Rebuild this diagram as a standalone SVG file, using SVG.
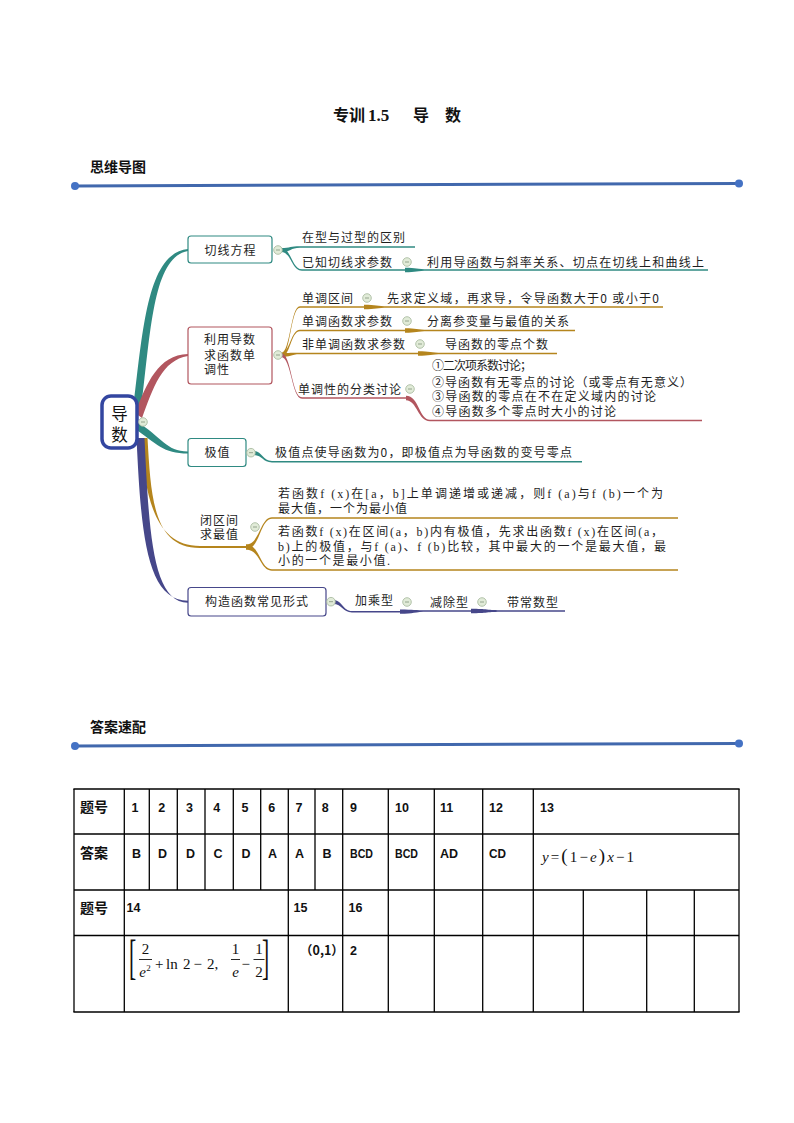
<svg xmlns="http://www.w3.org/2000/svg" width="794" height="1123" viewBox="0 0 794 1123">
<style>
.mm{font-family:"Noto Sans CJK SC",sans-serif;font-size:12px;letter-spacing:1px;fill:#1e1e1e}
.mx{font-family:"Liberation Serif","Noto Sans CJK SC",serif;font-size:12px;fill:#1e1e1e}
.hd{font-family:"Noto Sans CJK SC",sans-serif;font-size:14px;font-weight:bold;fill:#111}
.tb{font-family:"Liberation Sans",Arial,sans-serif;font-size:12.5px;font-weight:bold;fill:#111}
.tc{font-family:"Noto Sans CJK SC",sans-serif;font-size:14px;font-weight:bold;fill:#111}
.m{font-family:"Liberation Serif","Times New Roman",serif;font-size:15px;fill:#111}
.i{font-style:italic}
.br{font-family:"Liberation Serif","Times New Roman",serif;font-size:48px;fill:#111}
.sup{font-family:"Liberation Serif","Times New Roman",serif;font-size:9px;fill:#111}
.grid line{stroke:#000;stroke-width:1.3}
.t{fill:#2f8a82}.ts{stroke:#2f8a82}
.r{fill:#b2565f}.rs{stroke:#b2565f}
.g{fill:#b5851d}.gs{stroke:#b5851d}
.n{fill:#46478a}.ns{stroke:#46478a}
.ul{fill:none;stroke-width:1.4}
.box{fill:#fff;stroke-width:1.2}
</style>
<defs>
<g id="knob"><circle r="4.3" fill="#e1ebd8" stroke="#a3b69a" stroke-width="0.8"/><line x1="-2" y1="0" x2="2" y2="0" stroke="#8c9c86" stroke-width="0.9"/></g>
</defs>
<rect width="794" height="1123" fill="#fff"/>

<g id="title">
<text x="333" y="121" font-family="Noto Sans CJK SC,sans-serif" font-size="16" font-weight="bold" fill="#111">专训</text>
<text x="368" y="121" font-family="Liberation Serif,serif" font-size="17" font-weight="bold" fill="#111">1.5</text>
<text x="413" y="121" font-family="Noto Sans CJK SC,sans-serif" font-size="16" font-weight="bold" fill="#111">导</text>
<text x="445" y="121" font-family="Noto Sans CJK SC,sans-serif" font-size="16" font-weight="bold" fill="#111">数</text>
</g>

<g id="header1">
<text class="hd" x="90" y="172">思维导图</text>
<line x1="75" y1="186" x2="739" y2="183.5" stroke="#4168ad" stroke-width="3"/>
<circle cx="75" cy="186" r="4" fill="#4472c4"/>
<circle cx="739" cy="183.5" r="4" fill="#4472c4"/>
</g>

<g id="header2">
<text class="hd" x="90" y="732">答案速配</text>
<line x1="75" y1="746" x2="739" y2="743.5" stroke="#4168ad" stroke-width="3"/>
<circle cx="75" cy="746" r="4" fill="#4472c4"/>
<circle cx="739" cy="743.5" r="4" fill="#4472c4"/>
</g>

<g id="connectors">
<path class="t" d="M133 410 C143 330 147 253 188 249 L188 251 C153 257 151 330 141 410 Z"/>
<path class="r" d="M135 413 C147 383 158 355 188 354 L188 356 C162 360 153 388 142 418 Z"/>
<path class="t" d="M136 421 C162 437 166 451.5 188 451.5 L188 453.5 C163 453.5 157 444 134 428 Z"/>
<path class="g" d="M141 438 C145 502 157 546 200 546 L250 546 L250 548 L200 548 C154 548 151 500 147.5 438 Z"/>
<path class="n" d="M136.5 438 C141 532 146 600.7 188 600.7 L188 602.7 C152 602.7 149 530 144.5 438 Z"/>

<path class="t" d="M281 248 C290.5 248 290.5 246.3 300 246.3 L300 247.7 C290.5 247.7 290.5 252 281 252Z"/>
<path class="ul ts" d="M300 247 H415"/>
<path class="t" d="M281 248 C291.5 248 291.5 269.3 302 269.3 L302 270.7 C291.5 270.7 291.5 252 281 252Z"/>
<path class="ul ts" d="M302 270 H407"/>
<path class="t" d="M405 267.8 C416 267.8 417 269.3 428 269.3 L428 270.7 C417 270.7 416 272.2 405 272.2Z"/>
<path class="ul ts" d="M428 270 H708"/>

<path class="g" d="M281 353 C290.5 353 290.5 306.3 300 306.3 L300 307.7 C290.5 307.7 290.5 357 281 357Z"/>
<path class="ul gs" d="M300 307 H366"/>
<path class="g" d="M364 304.8 C376 304.8 377 306.3 388 306.3 L388 307.7 C377 307.7 376 309.2 364 309.2Z"/>
<path class="ul gs" d="M388 307 H663"/>
<path class="g" d="M281 353 C290.5 353 290.5 329.8 300 329.8 L300 331.2 C290.5 331.2 290.5 357 281 357Z"/>
<path class="ul gs" d="M300 330.5 H407"/>
<path class="g" d="M405 328.3 C416 328.3 417 329.8 428 329.8 L428 331.2 C417 331.2 416 332.7 405 332.7Z"/>
<path class="ul gs" d="M428 330.5 H575"/>
<path class="g" d="M281 353 C290.5 353 290.5 352.8 300 352.8 L300 354.2 C290.5 354.2 290.5 357 281 357Z"/>
<path class="ul gs" d="M300 353.5 H420"/>
<path class="g" d="M418 351.3 C430 351.3 431 352.8 442 352.8 L442 354.2 C431 354.2 430 355.7 418 355.7Z"/>
<path class="ul gs" d="M442 353.5 H557"/>
<path class="r" d="M281 353 C291.5 353 291.5 397.3 302 397.3 L302 398.7 C291.5 398.7 291.5 357 281 357Z"/>
<path class="ul rs" d="M302 398 H410"/>
<path class="r" d="M406 395.8 C419 395.8 419 419.8 430 419.8 L430 421.2 C418 421.2 417 400.2 406 400.2Z"/>
<path class="ul rs" d="M430 420.5 H702"/>

<path class="t" d="M253 451 C262.5 451 262.5 461 272 461 L272 462.4 C262.5 462.4 262.5 455 253 455Z"/>
<path class="ul ts" d="M272 461.7 H582"/>

<path class="g" d="M246 544.5 C260 544.5 260 517.3 272 517.3 L272 518.7 C260 518.7 260 549.5 246 549.5Z"/>
<path class="ul gs" d="M272 518 H678"/>
<path class="g" d="M246 544.5 C260 544.5 260 569.3 272 569.3 L272 570.7 C260 570.7 260 549.5 246 549.5Z"/>
<path class="ul gs" d="M272 570 H678"/>

<path class="n" d="M333 600 C342.5 600 342.5 611 352 611 L352 612.4 C342.5 612.4 342.5 604 333 604Z"/>
<path class="ul ns" d="M352 611.7 H402"/>
<path class="n" d="M400 609.4 C414 609.4 414 610.3 428 610.3 L428 611.7 C414 611.7 414 613.8 400 613.8Z"/>
<path class="ul ns" d="M428 611 H473"/>
<path class="n" d="M471 608.8 C487 608.8 487 610.3 503 610.3 L503 611.7 C487 611.7 487 613.2 471 613.2Z"/>
<path class="ul ns" d="M503 611 H565"/>
</g>

<g id="node-root">
<rect x="102" y="396" width="35" height="52" rx="9" fill="#fff" stroke="#3346a0" stroke-width="3.5"/>
<text x="119.5" y="420" text-anchor="middle" font-family="Noto Sans CJK SC,sans-serif" font-size="16.5" fill="#111">导</text>
<text x="119.5" y="440.5" text-anchor="middle" font-family="Noto Sans CJK SC,sans-serif" font-size="16.5" fill="#111">数</text>
<use href="#knob" x="143" y="422"/>
</g>

<g id="node-tangent">
<rect class="box ts" x="188" y="236" width="84" height="27" rx="3"/>
<text class="mm" x="230.5" y="254.5" text-anchor="middle">切线方程</text>
<use href="#knob" x="278" y="250"/>
</g>
<g id="node-tangent-1"><text class="mm" x="302" y="241.5">在型与过型的区别</text></g>
<g id="node-tangent-2"><text class="mm" x="302" y="266.5">已知切线求参数</text><use href="#knob" x="407" y="262"/></g>
<g id="node-tangent-2a"><text class="mm" x="427" y="266.5" textLength="278" lengthAdjust="spacing">利用导函数与斜率关系、切点在切线上和曲线上</text></g>

<g id="node-mono">
<rect class="box rs" x="188" y="327" width="84" height="57" rx="3"/>
<text class="mm" x="204" y="343.8">利用导数</text>
<text class="mm" x="204" y="359.5">求函数单</text>
<text class="mm" x="204" y="373.8">调性</text>
<use href="#knob" x="278" y="355"/>
</g>
<g id="node-mono-1"><text class="mm" x="302" y="302.5">单调区间</text><use href="#knob" x="367" y="298"/></g>
<g id="node-mono-1a"><text class="mm" x="387" y="303" textLength="273" lengthAdjust="spacing">先求定义域，再求导，令导函数大于0 或小于0</text></g>
<g id="node-mono-2"><text class="mm" x="302" y="325.5">单调函数求参数</text><use href="#knob" x="407" y="321"/></g>
<g id="node-mono-2a"><text class="mm" x="427" y="325.5">分离参变量与最值的关系</text></g>
<g id="node-mono-3"><text class="mm" x="302" y="348.5">非单调函数求参数</text><use href="#knob" x="420" y="344"/></g>
<g id="node-mono-3a"><text class="mm" x="445" y="348.5">导函数的零点个数</text></g>
<g id="node-mono-4"><text class="mm" x="298" y="393.5">单调性的分类讨论</text><use href="#knob" x="410" y="389"/></g>
<g id="node-mono-4a">
<text class="mm" x="432" y="370" textLength="101" lengthAdjust="spacing">①二次项系数讨论；</text>
<text class="mm" x="432" y="386.5" textLength="261" lengthAdjust="spacing">②导函数有无零点的讨论（或零点有无意义）</text>
<text class="mm" x="432" y="401" textLength="225" lengthAdjust="spacing">③导函数的零点在不在定义域内的讨论</text>
<text class="mm" x="432" y="416" textLength="185" lengthAdjust="spacing">④导函数多个零点时大小的讨论</text>
</g>

<g id="node-extremum">
<rect class="box ts" x="188" y="438.5" width="58" height="28" rx="3"/>
<text class="mm" x="217.5" y="457" text-anchor="middle">极值</text>
<use href="#knob" x="251" y="452.7"/>
</g>
<g id="node-extremum-1"><text class="mm" x="275" y="457" textLength="298" lengthAdjust="spacing">极值点使导函数为0，即极值点为导函数的变号零点</text></g>

<g id="node-closed">
<text class="mm" x="200" y="524.5">闭区间</text>
<text class="mm" x="200" y="538.5">求最值</text>
<use href="#knob" x="255" y="527"/>
</g>
<g id="node-closed-1">
<text class="mx" x="278" y="497.8" textLength="385" lengthAdjust="spacing">若函数f (x)在[a，b]上单调递增或递减，则f (a)与f (b)一个为</text>
<text class="mm" x="278" y="512.8">最大值，一个为最小值</text>
</g>
<g id="node-closed-2">
<text class="mx" x="278" y="536" textLength="385" lengthAdjust="spacing">若函数f (x)在区间(a，b)内有极值，先求出函数f (x)在区间(a，</text>
<text class="mx" x="278" y="550.5" textLength="388" lengthAdjust="spacing">b)上的极值，与f (a)、f (b)比较，其中最大的一个是最大值，最</text>
<text class="mx" x="278" y="564.5" textLength="112" lengthAdjust="spacing">小的一个是最小值.</text>
</g>

<g id="node-construct">
<rect class="box ns" x="188" y="587.5" width="138" height="28.5" rx="3"/>
<text class="mm" x="257" y="606" text-anchor="middle">构造函数常见形式</text>
<use href="#knob" x="331" y="601.7"/>
</g>
<g id="node-construct-1"><text class="mm" x="355" y="605">加乘型</text><use href="#knob" x="407" y="602"/></g>
<g id="node-construct-2"><text class="mm" x="430" y="607">减除型</text><use href="#knob" x="482" y="602"/></g>
<g id="node-construct-3"><text class="mm" x="507" y="607">带常数型</text></g>

<g id="table">
<g class="grid">
<line x1="73.4" y1="789" x2="739.6" y2="789"/>
<line x1="74" y1="834" x2="739" y2="834"/>
<line x1="74" y1="890" x2="739" y2="890"/>
<line x1="74" y1="935.5" x2="739" y2="935.5"/>
<line x1="73.4" y1="1012" x2="739.6" y2="1012"/>
<line x1="74" y1="789" x2="74" y2="1012"/>
<line x1="739" y1="789" x2="739" y2="1012"/>
<line x1="124.3" y1="789" x2="124.3" y2="1012"/>
<line x1="288.3" y1="789" x2="288.3" y2="1012"/>
<line x1="342.7" y1="789" x2="342.7" y2="1012"/>
<line x1="388.3" y1="789" x2="388.3" y2="1012"/>
<line x1="434.3" y1="789" x2="434.3" y2="1012"/>
<line x1="482.7" y1="789" x2="482.7" y2="1012"/>
<line x1="533.3" y1="789" x2="533.3" y2="1012"/>
<line x1="149.3" y1="789" x2="149.3" y2="890"/>
<line x1="177.3" y1="789" x2="177.3" y2="890"/>
<line x1="205" y1="789" x2="205" y2="890"/>
<line x1="233.3" y1="789" x2="233.3" y2="890"/>
<line x1="260.7" y1="789" x2="260.7" y2="890"/>
<line x1="315" y1="789" x2="315" y2="890"/>
<line x1="583.3" y1="890" x2="583.3" y2="1012"/>
<line x1="646.7" y1="890" x2="646.7" y2="1012"/>
<line x1="694.3" y1="890" x2="694.3" y2="1012"/>
</g>
<text class="tc" x="80" y="812">题号</text>
<text class="tb" x="131.5" y="812">1</text>
<text class="tb" x="158.3" y="812">2</text>
<text class="tb" x="186" y="812">3</text>
<text class="tb" x="213.3" y="812">4</text>
<text class="tb" x="241.5" y="812">5</text>
<text class="tb" x="268.3" y="812">6</text>
<text class="tb" x="295.5" y="812">7</text>
<text class="tb" x="321.7" y="812">8</text>
<text class="tb" x="350" y="812">9</text>
<text class="tb" x="395" y="812">10</text>
<text class="tb" x="440" y="812">11</text>
<text class="tb" x="489" y="812">12</text>
<text class="tb" x="540" y="812">13</text>

<text class="tc" x="80" y="858">答案</text>
<text class="tb" x="132" y="858">B</text>
<text class="tb" x="158" y="858">D</text>
<text class="tb" x="186" y="858">D</text>
<text class="tb" x="213.5" y="858">C</text>
<text class="tb" x="241.5" y="858">D</text>
<text class="tb" x="268" y="858">A</text>
<text class="tb" x="295" y="858">A</text>
<text class="tb" x="322.5" y="858">B</text>
<text class="tb" x="350" y="858" textLength="23" lengthAdjust="spacingAndGlyphs">BCD</text>
<text class="tb" x="395" y="858" textLength="23" lengthAdjust="spacingAndGlyphs">BCD</text>
<text class="tb" x="440" y="858">AD</text>
<text class="tb" x="489" y="858" textLength="17" lengthAdjust="spacingAndGlyphs">CD</text>
<text class="m" x="542" y="862" textLength="92" lengthAdjust="spacing"><tspan class="i">y</tspan>=<tspan style="font-size:19px">(</tspan>1−<tspan class="i">e</tspan><tspan style="font-size:19px">)</tspan><tspan class="i">x</tspan>−1</text>

<text class="tc" x="80" y="913">题号</text>
<text class="tb" x="126.5" y="912">14</text>
<text class="tb" x="293.5" y="912">15</text>
<text class="tb" x="348.5" y="912">16</text>

<g id="formula14">
<text class="br" transform="translate(129 973) scale(0.45 1)">[</text>
<text class="m" x="145.5" y="954" text-anchor="middle">2</text>
<line x1="139" y1="959.5" x2="152" y2="959.5" stroke="#111" stroke-width="0.9"/>
<text class="m i" x="142.5" y="977" text-anchor="middle">e</text>
<text class="sup" x="148.5" y="971" text-anchor="middle">2</text>
<text class="m" x="155" y="969">+</text>
<text class="m" x="166" y="969">ln</text>
<text class="m" x="183" y="969">2</text>
<text class="m" x="193.5" y="969">−</text>
<text class="m" x="207" y="969">2,</text>
<text class="m" x="235.5" y="954" text-anchor="middle">1</text>
<line x1="231" y1="959.5" x2="240" y2="959.5" stroke="#111" stroke-width="0.9"/>
<text class="m i" x="235.5" y="977" text-anchor="middle">e</text>
<text class="m" x="241.5" y="969">−</text>
<text class="m" x="259" y="954" text-anchor="middle">1</text>
<line x1="253.5" y1="959.5" x2="264.5" y2="959.5" stroke="#111" stroke-width="0.9"/>
<text class="m" x="259" y="977" text-anchor="middle">2</text>
<text class="br" transform="translate(262 973) scale(0.45 1)">]</text>
</g>

<text class="tb" x="300" y="955" style="font-family:'Noto Sans CJK SC',sans-serif">（0,1）</text>
<text class="tb" x="350" y="955">2</text>
</g>
</svg>
